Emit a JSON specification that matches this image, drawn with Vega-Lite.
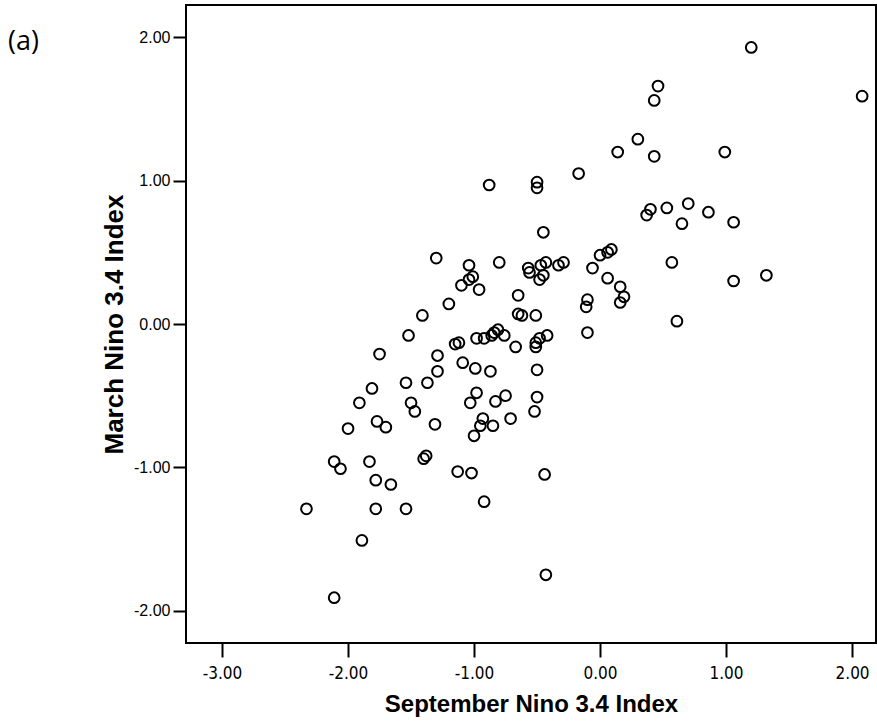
{
  "$schema": "https://vega.github.io/schema/vega-lite/v6.json",
  "autosize": {"type": "none"},
  "padding": {"left": 186, "top": 5, "right": 1, "bottom": 81},
  "width": 690,
  "height": 638,
  "background": "white",
  "title": {"text": "(a)", "anchor": "start", "frame": "group", "orient": "top", "offset": 0, "dx": -178, "dy": 72, "baseline": "alphabetic", "font": "Open Sans, Noto Sans, sans-serif", "fontSize": 27, "fontWeight": "normal", "color": "black"},
  "config": {"view": {"stroke": "black", "strokeWidth": 2}},
  "data": {"values": [
    {"sep": 1.20, "mar": 1.93}, {"sep": 2.08, "mar": 1.59}, {"sep": 0.46, "mar": 1.66}, {"sep": 0.43, "mar": 1.56},
    {"sep": 0.30, "mar": 1.29}, {"sep": 0.14, "mar": 1.20}, {"sep": 0.99, "mar": 1.20}, {"sep": 0.43, "mar": 1.17},
    {"sep": -0.17, "mar": 1.05}, {"sep": -0.50, "mar": 0.99}, {"sep": -0.50, "mar": 0.95}, {"sep": -0.88, "mar": 0.97},
    {"sep": 0.70, "mar": 0.84}, {"sep": 0.86, "mar": 0.78}, {"sep": 0.53, "mar": 0.81}, {"sep": 0.40, "mar": 0.80},
    {"sep": 0.37, "mar": 0.76}, {"sep": 1.06, "mar": 0.71}, {"sep": 0.65, "mar": 0.70}, {"sep": -0.45, "mar": 0.64},
    {"sep": -1.30, "mar": 0.46}, {"sep": 0.09, "mar": 0.52}, {"sep": 0.06, "mar": 0.50}, {"sep": 0.00, "mar": 0.48},
    {"sep": -0.06, "mar": 0.39}, {"sep": 0.06, "mar": 0.32}, {"sep": -0.29, "mar": 0.43}, {"sep": -0.33, "mar": 0.41},
    {"sep": -0.43, "mar": 0.43}, {"sep": -0.47, "mar": 0.41}, {"sep": -0.57, "mar": 0.39}, {"sep": -0.56, "mar": 0.36},
    {"sep": -0.80, "mar": 0.43}, {"sep": -1.04, "mar": 0.41}, {"sep": -1.01, "mar": 0.33}, {"sep": -1.04, "mar": 0.31},
    {"sep": -1.10, "mar": 0.27}, {"sep": -0.96, "mar": 0.24}, {"sep": -0.45, "mar": 0.34}, {"sep": -0.48, "mar": 0.31},
    {"sep": 0.57, "mar": 0.43}, {"sep": 1.06, "mar": 0.30}, {"sep": 1.32, "mar": 0.34}, {"sep": 0.19, "mar": 0.19},
    {"sep": 0.16, "mar": 0.26}, {"sep": -0.10, "mar": 0.17}, {"sep": -0.11, "mar": 0.12}, {"sep": 0.16, "mar": 0.15},
    {"sep": -0.10, "mar": -0.06}, {"sep": 0.61, "mar": 0.02}, {"sep": -0.65, "mar": 0.20}, {"sep": -1.20, "mar": 0.14},
    {"sep": -0.65, "mar": 0.07}, {"sep": -0.62, "mar": 0.06}, {"sep": -0.51, "mar": 0.06}, {"sep": -1.41, "mar": 0.06},
    {"sep": -0.81, "mar": -0.04}, {"sep": -0.84, "mar": -0.06}, {"sep": -0.86, "mar": -0.08}, {"sep": -0.92, "mar": -0.10},
    {"sep": -0.76, "mar": -0.08}, {"sep": -0.98, "mar": -0.10}, {"sep": -1.52, "mar": -0.08}, {"sep": -1.12, "mar": -0.13},
    {"sep": -1.15, "mar": -0.14}, {"sep": -0.48, "mar": -0.10}, {"sep": -0.51, "mar": -0.13}, {"sep": -0.51, "mar": -0.16},
    {"sep": -0.42, "mar": -0.08}, {"sep": -0.67, "mar": -0.16}, {"sep": -1.75, "mar": -0.21}, {"sep": -1.29, "mar": -0.22},
    {"sep": -1.29, "mar": -0.33}, {"sep": -1.09, "mar": -0.27}, {"sep": -0.87, "mar": -0.33}, {"sep": -0.99, "mar": -0.31},
    {"sep": -1.37, "mar": -0.41}, {"sep": -1.81, "mar": -0.45}, {"sep": -1.54, "mar": -0.41}, {"sep": -0.50, "mar": -0.32},
    {"sep": -0.98, "mar": -0.48}, {"sep": -0.75, "mar": -0.50}, {"sep": -1.91, "mar": -0.55}, {"sep": -1.50, "mar": -0.55},
    {"sep": -1.47, "mar": -0.61}, {"sep": -1.03, "mar": -0.55}, {"sep": -0.83, "mar": -0.54}, {"sep": -0.50, "mar": -0.51},
    {"sep": -0.52, "mar": -0.61}, {"sep": -1.77, "mar": -0.68}, {"sep": -1.70, "mar": -0.72}, {"sep": -1.31, "mar": -0.70},
    {"sep": -0.93, "mar": -0.66}, {"sep": -0.95, "mar": -0.71}, {"sep": -0.85, "mar": -0.71}, {"sep": -0.71, "mar": -0.66},
    {"sep": -1.00, "mar": -0.78}, {"sep": -2.00, "mar": -0.73}, {"sep": -1.38, "mar": -0.92}, {"sep": -1.40, "mar": -0.94},
    {"sep": -2.11, "mar": -0.96}, {"sep": -2.06, "mar": -1.01}, {"sep": -1.83, "mar": -0.96}, {"sep": -1.13, "mar": -1.03},
    {"sep": -1.02, "mar": -1.04}, {"sep": -0.44, "mar": -1.05}, {"sep": -1.78, "mar": -1.09}, {"sep": -1.66, "mar": -1.12},
    {"sep": -2.33, "mar": -1.29}, {"sep": -1.78, "mar": -1.29}, {"sep": -1.54, "mar": -1.29}, {"sep": -0.92, "mar": -1.24},
    {"sep": -1.89, "mar": -1.51}, {"sep": -0.43, "mar": -1.75}, {"sep": -2.11, "mar": -1.91}
  ]},
  "mark": {"type": "point", "shape": "circle", "filled": false, "stroke": "black", "strokeWidth": 2, "size": 115, "opacity": 1},
  "encoding": {
    "x": {
      "field": "sep", "type": "quantitative",
      "scale": {"domain": [-3.286, 2.19], "nice": false, "zero": false},
      "axis": {
        "values": [-3, -2, -1, 0, 1, 2], "grid": false, "domain": false,
        "labelExpr": "(datum.value < 0 ? '-' : '') + format(abs(datum.value), '.2f')",
        "ticks": true, "tickSize": 14, "tickWidth": 2, "tickColor": "black",
        "labelFont": "Liberation Sans Narrow, Arial Narrow, DejaVu Sans Condensed, Arial, Liberation Sans, sans-serif", "labelFontSize": 17, "labelColor": "black", "labelPadding": 8,
        "title": "September Nino 3.4 Index", "titleFont": "Arial, Liberation Sans, sans-serif", "titleFontSize": 24, "titleFontWeight": "bold",
        "titleColor": "black", "titlePadding": 11
      }
    },
    "y": {
      "field": "mar", "type": "quantitative",
      "scale": {"domain": [-2.226, 2.226], "nice": false, "zero": false},
      "axis": {
        "values": [-2, -1, 0, 1, 2], "grid": false, "domain": false,
        "labelExpr": "(datum.value < 0 ? '-' : '') + format(abs(datum.value), '.2f')",
        "ticks": true, "tickSize": 13, "tickWidth": 2, "tickColor": "black",
        "labelFont": "Arial, Liberation Sans, sans-serif", "labelFontSize": 16, "labelColor": "black", "labelPadding": 3,
        "title": "March Nino 3.4 Index", "titleFont": "Arial, Liberation Sans, sans-serif", "titleFontSize": 26, "titleFontWeight": "bold",
        "titleColor": "black", "titlePadding": 6
      }
    }
  }
}
